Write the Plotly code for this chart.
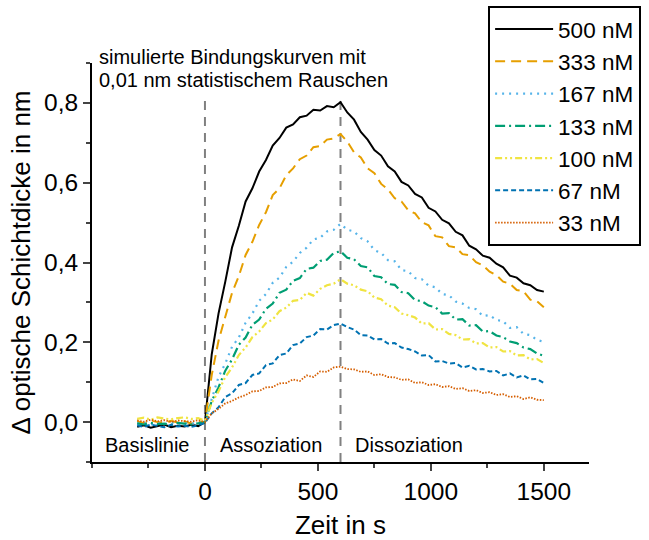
import plotly.graph_objects as go

# ---------------- data ----------------
time_s = list(range(-300, 1501, 30))

labels = ["500 nM", "333 nM", "167 nM", "133 nM", "100 nM", "67 nM", "33 nM"]

c500 = [-0.012, -0.008, -0.014, -0.010, -0.006, -0.013, -0.009, -0.011, -0.007, -0.010, 0.000,
        0.170, 0.272, 0.352, 0.438, 0.492, 0.553, 0.586, 0.628, 0.657, 0.693,
        0.712, 0.738, 0.746, 0.764, 0.768, 0.783, 0.781, 0.792, 0.789, 0.802,
        0.776, 0.758, 0.727, 0.708, 0.682, 0.668, 0.641, 0.628, 0.602, 0.593,
        0.572, 0.563, 0.537, 0.528, 0.507, 0.498, 0.477, 0.468, 0.442, 0.433,
        0.417, 0.412, 0.397, 0.388, 0.367, 0.362, 0.348, 0.343, 0.331, 0.327]

c333 = [0.002, -0.003, 0.004, 0.000, -0.002, 0.003, -0.001, 0.002, -0.004, 0.001, 0.000,
        0.118, 0.204, 0.262, 0.324, 0.366, 0.419, 0.452, 0.494, 0.526, 0.569,
        0.586, 0.619, 0.636, 0.659, 0.668, 0.689, 0.692, 0.708, 0.711, 0.722,
        0.703, 0.676, 0.663, 0.636, 0.624, 0.597, 0.583, 0.561, 0.553, 0.531,
        0.523, 0.501, 0.493, 0.466, 0.463, 0.441, 0.438, 0.421, 0.418, 0.401,
        0.393, 0.377, 0.368, 0.352, 0.347, 0.331, 0.328, 0.307, 0.303, 0.288]

c167 = [-0.004, -0.002, -0.006, -0.003, -0.005, -0.001, -0.006, -0.003, -0.004, -0.002, 0.000,
        0.058, 0.113, 0.147, 0.189, 0.212, 0.249, 0.272, 0.304, 0.321, 0.349,
        0.362, 0.389, 0.402, 0.424, 0.437, 0.458, 0.462, 0.478, 0.482, 0.497,
        0.482, 0.478, 0.461, 0.453, 0.431, 0.424, 0.406, 0.403, 0.381, 0.378,
        0.361, 0.358, 0.342, 0.338, 0.321, 0.318, 0.302, 0.297, 0.286, 0.283,
        0.266, 0.268, 0.256, 0.253, 0.236, 0.238, 0.221, 0.218, 0.206, 0.201]

c133 = [-0.003, -0.006, -0.002, -0.005, -0.004, -0.007, -0.002, -0.004, -0.006, -0.003, 0.000,
        0.053, 0.087, 0.129, 0.157, 0.194, 0.212, 0.244, 0.257, 0.284, 0.297,
        0.324, 0.332, 0.354, 0.361, 0.384, 0.387, 0.404, 0.407, 0.424, 0.428,
        0.412, 0.408, 0.391, 0.388, 0.366, 0.363, 0.346, 0.344, 0.326, 0.323,
        0.306, 0.303, 0.292, 0.288, 0.272, 0.273, 0.257, 0.258, 0.242, 0.243,
        0.227, 0.228, 0.217, 0.213, 0.202, 0.198, 0.187, 0.183, 0.172, 0.166]

c100 = [0.008, 0.011, 0.006, 0.012, 0.009, 0.007, 0.010, 0.012, 0.008, 0.010, 0.003,
        0.048, 0.077, 0.113, 0.137, 0.168, 0.187, 0.213, 0.227, 0.248, 0.257,
        0.278, 0.287, 0.304, 0.306, 0.324, 0.317, 0.334, 0.343, 0.347, 0.358,
        0.347, 0.343, 0.332, 0.328, 0.312, 0.308, 0.292, 0.288, 0.272, 0.268,
        0.262, 0.247, 0.248, 0.232, 0.233, 0.221, 0.218, 0.207, 0.208, 0.197,
        0.198, 0.187, 0.188, 0.177, 0.178, 0.167, 0.168, 0.157, 0.158, 0.148]

c67 = [-0.008, -0.012, -0.006, -0.010, -0.013, -0.007, -0.011, -0.009, -0.012, -0.008, -0.002,
       0.022, 0.037, 0.063, 0.072, 0.093, 0.098, 0.118, 0.122, 0.143, 0.147,
       0.168, 0.172, 0.193, 0.197, 0.213, 0.217, 0.233, 0.232, 0.243, 0.247,
       0.238, 0.232, 0.218, 0.217, 0.207, 0.208, 0.197, 0.198, 0.187, 0.183,
       0.177, 0.167, 0.168, 0.152, 0.153, 0.147, 0.148, 0.137, 0.141, 0.132,
       0.133, 0.127, 0.128, 0.117, 0.122, 0.112, 0.117, 0.107, 0.108, 0.098]

c33 = [0.004, 0.001, 0.006, 0.002, 0.005, 0.000, 0.004, 0.003, 0.001, 0.005, 0.000,
       0.022, 0.033, 0.047, 0.053, 0.062, 0.068, 0.077, 0.078, 0.087, 0.088,
       0.097, 0.098, 0.107, 0.103, 0.117, 0.113, 0.127, 0.126, 0.137, 0.139,
       0.133, 0.132, 0.126, 0.127, 0.118, 0.120, 0.113, 0.112, 0.106, 0.107,
       0.098, 0.100, 0.093, 0.095, 0.088, 0.090, 0.083, 0.085, 0.078, 0.080,
       0.073, 0.075, 0.068, 0.070, 0.063, 0.065, 0.058, 0.062, 0.056, 0.055]

series = [c500, c333, c167, c133, c100, c67, c33]

phase_boundaries = [0, 600]
phase_labels = ["Basislinie", "Assoziation", "Dissoziation"]
phase_label_x = [-450, 58, 655]
x_ticks = [0, 500, 1000, 1500]
y_ticks = [0.0, 0.2, 0.4, 0.6, 0.8]
y_ticklabels = ["0,0", "0,2", "0,4", "0,6", "0,8"]
note_lines = ["simulierte Bindungskurven mit", "0,01 nm statistischem Rauschen"]

# ---------------- styles ----------------
colors = ["#000000", "#E69F00", "#56B4E9", "#009E73", "#F0E442", "#0072B2", "#D55E00"]
dashes = ["solid", "10px,6px", "2px,5px", "10px,4px,2px,4px",
          "7px,3px,2px,3px,2px,3px", "5px,3px", "1.5px,1.5px"]
widths = [2, 2, 2.2, 2.2, 2.2, 2, 1.8]

FONT = "Liberation Sans, Arial, sans-serif"

fig = go.Figure()
for lab, ys, col, dsh, w in zip(labels, series, colors, dashes, widths):
    fig.add_trace(go.Scatter(x=time_s, y=ys, mode="lines", name=lab,
                             line=dict(color=col, dash=dsh, width=w)))

for xb in phase_boundaries:
    fig.add_shape(type="line", xref="x", yref="y", x0=xb, x1=xb, y0=-0.1, y1=0.815,
                  line=dict(color="#808080", width=2, dash="9px,7px"), layer="below")

for lab, xl in zip(phase_labels, phase_label_x):
    fig.add_annotation(x=xl, y=-0.057, xref="x", yref="y", text=lab, showarrow=False,
                       xanchor="left", yanchor="middle",
                       font=dict(size=20, color="black", family=FONT))

note_y = [1.015, 0.957]
for line, yy in zip(note_lines, note_y):
    fig.add_annotation(x=-478, y=yy, xref="x", yref="paper", text=line,
                       showarrow=False, xanchor="left", yanchor="middle",
                       font=dict(size=20, color="black", family=FONT))

fig.update_layout(
    width=649, height=540,
    margin=dict(l=92, r=60, t=63, b=78, autoexpand=False),
    paper_bgcolor="white", plot_bgcolor="white",
    font=dict(family=FONT, color="black"),
    showlegend=True,
    legend=dict(x=0.797, y=1.143, xanchor="left", yanchor="top",
                bgcolor="white", bordercolor="black", borderwidth=2,
                font=dict(size=22.5, family=FONT, color="black"),
                itemwidth=58, tracegroupgap=0),
    xaxis=dict(range=[-500, 1700], tickvals=x_ticks, ticks="outside", ticklen=7,
               tickwidth=2, showline=True, linewidth=2, linecolor="black",
               showgrid=False, zeroline=False,
               tickfont=dict(size=24.5, family=FONT),
               minor=dict(dtick=250, tick0=0, ticks="outside", ticklen=4, tickwidth=2),
               title=dict(text="Zeit in s", font=dict(size=26, family=FONT), standoff=14)),
    yaxis=dict(range=[-0.1, 0.9], tickvals=y_ticks, ticktext=y_ticklabels,
               ticks="outside", ticklen=7, tickwidth=2, showline=True, linewidth=2,
               linecolor="black", showgrid=False, zeroline=False,
               tickfont=dict(size=24.5, family=FONT),
               minor=dict(dtick=0.1, tick0=0, ticks="outside", ticklen=4, tickwidth=2),
               title=dict(text="Δ optische Schichtdicke in nm",
                          font=dict(size=26, family=FONT), standoff=6)),
)

fig.write_html("out.html", config={"displayModeBar": False},
               post_script="document.body.style.margin='0';document.body.style.padding='0';")
